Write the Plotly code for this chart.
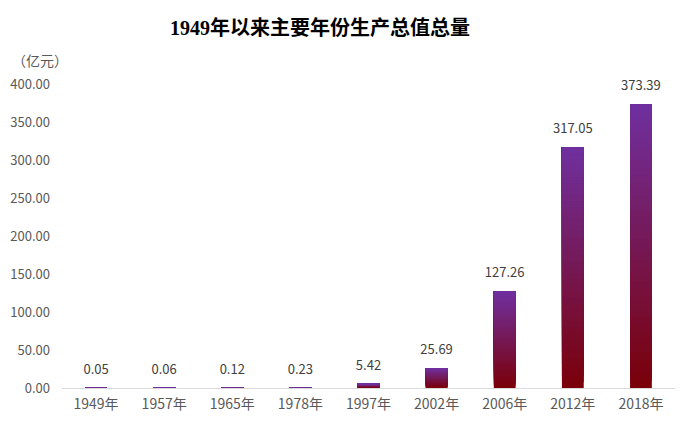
import plotly.graph_objects as go

categories = ["1949年", "1957年", "1965年", "1978年", "1997年", "2002年", "2006年", "2012年", "2018年"]
values = [0.05, 0.06, 0.12, 0.23, 5.42, 25.69, 127.26, 317.05, 373.39]
value_labels = ["0.05", "0.06", "0.12", "0.23", "5.42", "25.69", "127.26", "317.05", "373.39"]
y_ticks = [0, 50, 100, 150, 200, 250, 300, 350, 400]

top_rgb = (112, 48, 160)
bottom_rgb = (122, 0, 8)
N = 40

W, H = 692, 426
ML, MR, MT, MB = 62, 17, 84, 38
PW, PH = W - ML - MR, H - MT - MB


def px_to_paper(px, py):
    return (px - ML) / PW, (H - MB - py) / PH


fig = go.Figure()
for k in range(N):
    t = (k + 0.5) / N
    c = tuple(int(round(bottom_rgb[i] + (top_rgb[i] - bottom_rgb[i]) * t)) for i in range(3))
    fig.add_trace(go.Bar(
        x=categories,
        y=[v * (N - k) / N for v in values],
        base=[v * k / N for v in values],
        width=0.32,
        marker=dict(color="rgb(%d,%d,%d)" % c, line=dict(width=0)),
        showlegend=False,
        hoverinfo="skip",
    ))

fig.add_trace(go.Scatter(
    x=categories, y=values, mode="markers+text", text=value_labels,
    textposition="top center",
    marker=dict(size=16, opacity=0),
    textfont=dict(family="Noto Sans CJK SC, sans-serif", size=13, color="#404040"),
    showlegend=False, hoverinfo="skip", cliponaxis=False,
))

tx, ty = px_to_paper(320, 28)
ux, uy = px_to_paper(10, 60)

fig.update_layout(
    width=W, height=H,
    margin=dict(l=ML, r=MR, t=MT, b=MB),
    barmode="overlay",
    bargap=0.68,
    plot_bgcolor="white", paper_bgcolor="white",
    font=dict(family="Noto Sans CJK SC, sans-serif", color="#595959"),
    xaxis=dict(
        range=[-0.5, len(categories) - 0.5],
        showline=True, linecolor="#D9D9D9", linewidth=1,
        showgrid=False, ticks="", tickfont=dict(size=14, color="#595959"),
        ticklabelstandoff=3, automargin=False,
    ),
    yaxis=dict(
        range=[0, 400], tickvals=y_ticks, tickformat=".2f",
        showgrid=False, zeroline=False, showline=False,
        tickfont=dict(size=13, color="#595959"),
        ticklabelstandoff=11, automargin=False,
    ),
    annotations=[
        dict(text="1949年以来主要年份生产总值总量", x=tx, y=ty,
             xref="paper", yref="paper", xanchor="center", yanchor="middle",
             showarrow=False,
             font=dict(family="Liberation Serif, Noto Sans CJK SC, serif", size=20, color="black", weight="bold")),
        dict(text="（亿元）", x=ux, y=uy, xref="paper", yref="paper",
             xanchor="left", yanchor="middle", showarrow=False,
             font=dict(size=14, color="#595959")),
    ],
)

fig.write_html("out.html")
